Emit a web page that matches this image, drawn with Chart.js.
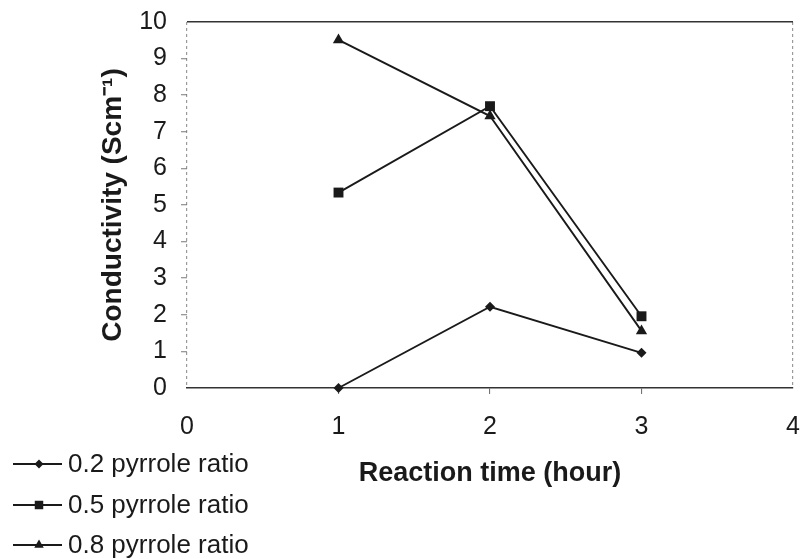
<!DOCTYPE html>
<html>
<head>
<meta charset="utf-8">
<script src="https://cdn.jsdelivr.net/npm/chart.js@4/dist/chart.umd.min.js"></script>
<style>
  html, body { margin: 0; padding: 0; background: #ffffff; }
  #c { display: block; }
</style>
</head>
<body>
<canvas id="c" width="801" height="559"></canvas>
<script>
// ---- data ----
const reactionTimes = [1, 2, 3];
const ratio02 = [0.0, 2.22, 0.96];
const ratio05 = [5.34, 7.70, 1.96];
const ratio08 = [9.51, 7.43, 1.56];
const seriesLabels = ['0.2 pyrrole ratio', '0.5 pyrrole ratio', '0.8 pyrrole ratio'];
const xTickValues = [0, 1, 2, 3, 4];
const yTickValues = [0, 1, 2, 3, 4, 5, 6, 7, 8, 9, 10];
const xTitle = 'Reaction time (hour)';
const yTitle = 'Conductivity (Scm\u207B\u00B9)';

const INK = '#1a1a1a';
const FONT = "'Liberation Sans', Arial, sans-serif";

function toPoints(ys) { return reactionTimes.map((x, i) => ({ x: x, y: ys[i] })); }

const styles = [
  { pointStyle: 'rectRot', radius: 5, legendRadius: 4.5 },
  { pointStyle: 'rect', radius: 7, legendRadius: 6 },
  { pointStyle: 'triangle', radius: 6.5, legendRadius: 5.5 }
];
const seriesValues = [ratio02, ratio05, ratio08];

const datasets = seriesValues.map((vals, i) => ({
  label: seriesLabels[i],
  data: toPoints(vals),
  borderColor: INK,
  backgroundColor: INK,
  borderWidth: 1.9,
  pointStyle: styles[i].pointStyle,
  pointRadius: styles[i].radius,
  pointBackgroundColor: INK,
  pointBorderColor: INK,
  pointBorderWidth: 0,
  legendRadius: styles[i].legendRadius,
  tension: 0,
  showLine: true,
  fill: false,
  clip: false
}));

// custom legend at the lower left, drawn from the datasets
const bottomLegend = {
  id: 'bottomLegend',
  afterDraw(chart) {
    const ctx = chart.ctx;
    const rows = [464, 505, 545];
    chart.data.datasets.forEach((ds, i) => {
      const y = rows[i];
      ctx.save();
      ctx.strokeStyle = INK;
      ctx.lineWidth = 1.8;
      ctx.beginPath();
      ctx.moveTo(13, y);
      ctx.lineTo(62, y);
      ctx.stroke();
      ctx.fillStyle = INK;
      ctx.strokeStyle = INK;
      Chart.helpers.drawPoint(ctx, { pointStyle: ds.pointStyle, radius: ds.legendRadius, borderWidth: 0, rotation: 0 }, 39, y);
      ctx.fillStyle = INK;
      ctx.font = '26px ' + FONT;
      ctx.textBaseline = 'middle';
      ctx.textAlign = 'left';
      ctx.fillText(ds.label, 68, y + 1);
      ctx.restore();
    });
  }
};

function zeroPadding(scale) {
  scale.paddingTop = 0; scale.paddingBottom = 0;
  scale.paddingLeft = 0; scale.paddingRight = 0;
}

new Chart(document.getElementById('c'), {
  type: 'scatter',
  data: { datasets: datasets },
  options: {
    responsive: false,
    animation: false,
    events: [],
    layout: { padding: { left: 96, right: 8, top: 22, bottom: 69 } },
    plugins: { legend: { display: false }, tooltip: { enabled: false }, title: { display: false } },
    scales: {
      x: {
        type: 'linear',
        min: 0, max: 4,
        afterBuildTicks(scale) { scale.ticks = xTickValues.map(v => ({ value: v })); },
        afterFit(scale) { scale.height = 102; zeroPadding(scale); },
        ticks: { stepSize: 1, color: INK, padding: 18, font: { family: FONT, size: 25 } },
        grid: {
          display: true,
          drawOnChartArea: true,
          color: (c) => (c.tick && (c.tick.value === 0 || c.tick.value === 4)) ? '#9a9a9a' : 'rgba(0,0,0,0)',
          lineWidth: 1.2,
          tickLength: 6,
          tickColor: (c) => (c.tick && c.tick.value > 0 && c.tick.value < 4) ? '#666' : 'rgba(0,0,0,0)',
          tickWidth: 1
        },
        border: { display: true, color: '#333', width: 1.5, dash: [3, 3] },
        title: { display: true, text: xTitle, color: INK, padding: { top: 0, bottom: 0 }, font: { family: FONT, size: 27, weight: 'bold' } }
      },
      y: {
        type: 'linear',
        min: 0, max: 10,
        afterBuildTicks(scale) { scale.ticks = yTickValues.map(v => ({ value: v })); },
        afterFit(scale) { scale.width = 91; zeroPadding(scale); },
        ticks: { stepSize: 1, color: INK, padding: 14, font: { family: FONT, size: 25 } },
        grid: {
          display: true,
          drawOnChartArea: true,
          color: (c) => (c.tick && c.tick.value === 10) ? '#333' : 'rgba(0,0,0,0)',
          lineWidth: 1.5,
          tickLength: 6,
          tickColor: (c) => (c.tick && c.tick.value > 0 && c.tick.value < 10) ? '#777' : 'rgba(0,0,0,0)',
          tickWidth: 1
        },
        border: { display: false },
        title: { display: true, text: yTitle, color: INK, padding: { top: 0, bottom: 0 }, font: { family: FONT, size: 28, weight: 'bold' } }
      }
    }
  },
  plugins: [bottomLegend]
});
</script>
</body>
</html>
